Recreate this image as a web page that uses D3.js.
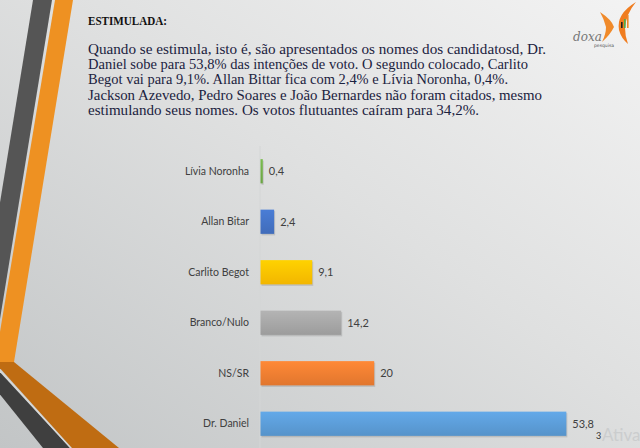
<!DOCTYPE html>
<html>
<head>
<meta charset="utf-8">
<script src="https://cdn.jsdelivr.net/npm/d3@7"></script>
<style>
  html, body { margin: 0; padding: 0; overflow: hidden; }
  svg { display: block; }
</style>
</head>
<body>
<div id="chart"></div>
<script>
// data
const categories = ["Lívia Noronha", "Allan Bitar", "Carlito Begot", "Branco/Nulo", "NS/SR", "Dr. Daniel"];
const values = [0.4, 2.4, 9.1, 14.2, 20, 53.8];
const barColors = ["#70ad47", "#4472c4", "#ffc000", "#a5a5a5", "#ed7d31", "#5b9bd5"];

const title = "ESTIMULADA:";
const paragraph = [
  "Quando se estimula, isto é, são apresentados os nomes dos candidatosd, Dr.",
  "Daniel sobe para 53,8% das intenções de voto. O segundo colocado, Carlito",
  "Begot vai para 9,1%. Allan Bittar fica com 2,4% e Lívia Noronha, 0,4%.",
  "Jackson Azevedo, Pedro Soares e João Bernardes não foram citados, mesmo",
  "estimulando seus nomes. Os votos flutuantes caíram para 34,2%."
];
const lineWidths = [458, 440, 420, 454, 391]; // measured line lengths in px

const W = 640, H = 448;

const svg = d3.select("#chart").append("svg")
  .attr("width", W)
  .attr("height", H);

const defs = svg.append("defs");

// slide background gradient
const bg = defs.append("linearGradient")
  .attr("id", "bg")
  .attr("x1", "100%").attr("y1", "0%")
  .attr("x2", "0%").attr("y2", "100%");
bg.append("stop").attr("offset", "0%").attr("stop-color", "#f3f3f3");
bg.append("stop").attr("offset", "45%").attr("stop-color", "#dfe0e0");
bg.append("stop").attr("offset", "100%").attr("stop-color", "#c2c5c6");

svg.append("rect")
  .attr("width", W).attr("height", H)
  .attr("fill", "url(#bg)");

// decorative stripes on the left
const deco = svg.append("g");
deco.append("polygon")
  .attr("points", "33,0 52,0 -7,362 -26,362")
  .attr("fill", "#555555");
deco.append("polygon")
  .attr("points", "55,0 73,0 14,362 -5,362")
  .attr("fill", "#ee9122");
deco.append("polygon")
  .attr("points", "-2,371 0,371 70,448 43,448 -2,392")
  .attr("fill", "#3f3f3f");
deco.append("polygon")
  .attr("points", "-2,370 70,448 72,448 -2,367")
  .attr("fill", "#d6d8d8");
deco.append("polygon")
  .attr("points", "-2,362 14,362 119,448 72,448 -2,366")
  .attr("fill", "#bf6c12");

// logo
const logo = svg.append("g");
logo.append("path")
  .attr("d", "M600,12 Q612,20 614,27 Q610,35 602,42 Q606,34 606,27 Q604,19 600,12 Z")
  .attr("fill", "#f08a2a");
logo.append("path")
  .attr("d", "M636,2 Q616,14 619,30 Q621,38 628,44 Q625,36 625,28 Q626,14 636,2 Z")
  .attr("fill", "#f07d20");
logo.append("rect").attr("x", 621).attr("y", 22).attr("width", 1.6).attr("height", 6).attr("fill", "#222");
logo.append("rect").attr("x", 624).attr("y", 19).attr("width", 1.6).attr("height", 9).attr("fill", "#4caf50");
logo.append("rect").attr("x", 627).attr("y", 15).attr("width", 1.6).attr("height", 13).attr("fill", "#f08a2a");
logo.append("text")
  .attr("x", 573).attr("y", 41)
  .attr("font-family", "DejaVu Serif")
  .attr("font-style", "italic")
  .attr("font-size", 12)
  .attr("fill", "#777")
  .text("doxa");
logo.append("text")
  .attr("x", 594).attr("y", 47)
  .attr("font-family", "DejaVu Sans")
  .attr("font-size", 4.5)
  .attr("fill", "#555")
  .text("pesquisa");

// heading and paragraph
svg.append("text")
  .attr("x", 88).attr("y", 25)
  .attr("font-family", "Liberation Serif")
  .attr("font-weight", "bold")
  .attr("font-size", 12.5)
  .attr("fill", "#111")
  .attr("textLength", 79)
  .attr("lengthAdjust", "spacingAndGlyphs")
  .text(title);

svg.append("g").selectAll("text")
  .data(paragraph)
  .join("text")
  .attr("x", 88)
  .attr("y", (d, i) => 54 + i * 15.2)
  .attr("font-family", "Liberation Serif")
  .attr("font-size", 14.5)
  .attr("fill", "#1b2240")
  .attr("textLength", (d, i) => lineWidths[i])
  .attr("lengthAdjust", "spacingAndGlyphs")
  .text(d => d);

// bar chart
const x = d3.scaleLinear()
  .domain([0, 60])
  .range([260.5, 601.6]);

const y = d3.scaleBand()
  .domain(categories)
  .range([146, 449])
  .paddingInner(0.52)
  .paddingOuter(0.26);

const rows = categories.map((c, i) => ({ cat: c, val: values[i], color: barColors[i] }));

// axis line
svg.append("line")
  .attr("x1", x(0) - 0.5).attr("x2", x(0) - 0.5)
  .attr("y1", 146).attr("y2", H)
  .attr("stroke", "#d4d6d6")
  .attr("stroke-width", 1);

// gradients for each bar
rows.forEach((d, i) => {
  const g = defs.append("linearGradient")
    .attr("id", "bar" + i)
    .attr("x1", "0").attr("y1", "0").attr("x2", "0").attr("y2", "1");
  g.append("stop").attr("offset", "0%").attr("stop-color", d3.color(d.color).brighter(0.25));
  g.append("stop").attr("offset", "100%").attr("stop-color", d3.color(d.color).darker(0.15));
});

// shadow
svg.append("g").selectAll("rect")
  .data(rows)
  .join("rect")
  .attr("x", x(0) + 1)
  .attr("y", d => y(d.cat) + 1.5)
  .attr("width", d => x(d.val) - x(0))
  .attr("height", y.bandwidth())
  .attr("fill", "#000")
  .attr("opacity", 0.12);

svg.append("g").selectAll("rect")
  .data(rows)
  .join("rect")
  .attr("x", x(0))
  .attr("y", d => y(d.cat))
  .attr("width", d => x(d.val) - x(0))
  .attr("height", y.bandwidth())
  .attr("fill", (d, i) => "url(#bar" + i + ")");

// category labels
svg.append("g").selectAll("text")
  .data(rows)
  .join("text")
  .attr("x", 249)
  .attr("y", d => y(d.cat) + y.bandwidth() / 2)
  .attr("dy", "0.35em")
  .attr("text-anchor", "end")
  .attr("font-family", "Lato")
  .attr("font-size", 10.5)
  .attr("fill", "#404040")
  .text(d => d.cat);

// value labels, comma decimal
const fmt = v => String(v).replace(".", ",");
svg.append("g").selectAll("text")
  .data(rows)
  .join("text")
  .attr("x", d => x(d.val) + 6)
  .attr("y", d => y(d.cat) + y.bandwidth() / 2)
  .attr("dy", "0.35em")
  .attr("font-family", "Lato")
  .attr("font-size", 11)
  .attr("fill", "#404040")
  .text(d => fmt(d.val));

// page number and faint watermark
svg.append("text")
  .attr("x", 596).attr("y", 439)
  .attr("font-family", "Lato")
  .attr("font-size", 9)
  .attr("fill", "#333")
  .text("3");
svg.append("text")
  .attr("x", 602).attr("y", 441)
  .attr("font-family", "Lato")
  .attr("font-size", 17)
  .attr("fill", "#cbcdce")
  .text("Ativa");
</script>
</body>
</html>
